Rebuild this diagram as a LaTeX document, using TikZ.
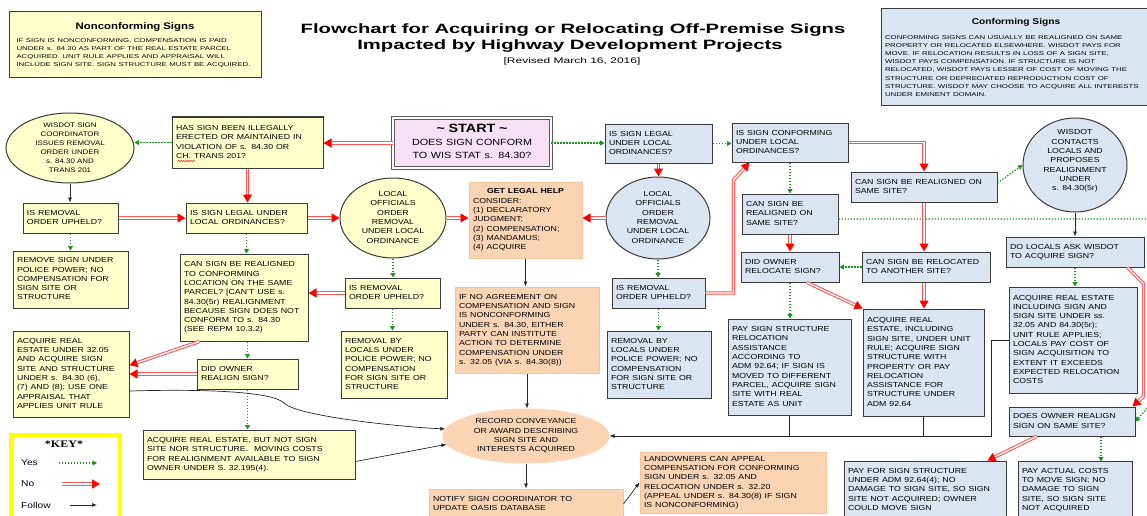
\documentclass[tikz,border=0pt]{standalone}
\usepackage{fontspec}
\usepackage{graphicx}
\setmainfont{Liberation Sans}
\newfontfamily\boxfam{Liberation Sans}
\newfontfamily\smallfam{Liberation Sans}[FakeStretch=1.4]
\newfontfamily\titlefam{Liberation Sans}[FakeStretch=1.5]
\newfontfamily\keyserif{Liberation Serif}
\usetikzlibrary{shapes.geometric,arrows.meta,decorations.pathmorphing,calc}
\definecolor{yfill}{HTML}{FFFFCC}
\definecolor{bfill}{HTML}{DBE5F1}
\definecolor{ofill}{HTML}{FBD4B4}
\definecolor{oline}{HTML}{F7C39A}
\definecolor{boxline}{HTML}{3A3A3A}
\definecolor{nored}{HTML}{FF5555}
\definecolor{yesgreen}{HTML}{1E961E}
\definecolor{startfill}{HTML}{F7E1F5}
\definecolor{keyyellow}{HTML}{FFFF00}
\newcommand\bfs{\boxfam\fontsize{7.3}{9.3}\selectfont}
\newcommand\smallfont{\smallfam\fontsize{5.6}{8.2}\selectfont}
\newcommand\jl[2]{\makebox[#1][s]{#2}}
\newcommand\stx[1]{\scalebox{1.2}[1]{\begin{tabular}{@{}l@{}}#1\end{tabular}}}
\newcommand\stc[1]{\scalebox{1.2}[1]{\begin{tabular}{@{}c@{}}#1\end{tabular}}}
\newcommand\wide[1]{\scalebox{1.2}[1]{#1}}
\newcommand\mybox[7]{%
  \pgfmathsetmacro\bxw{#5-#3}%
  \pgfmathsetmacro\bxh{#6-#4}%
  \pgfmathsetmacro\bxt{#5-#3-8}%
  \pgfmathsetmacro\bxcx{(#3+#5)/2}%
  \pgfmathsetmacro\bxcy{(#4+#6)/2}%
  \node[#2, minimum width=\bxw pt, minimum height=\bxh pt, text width=\bxt pt] (#1) at (\bxcx,\bxcy) {#7};}
\newcommand\myell[7]{%
  \node[#2, minimum width=#5*2pt, minimum height=#6*2pt] (#1) at (#3,#4) {\stc{#7}};}
\tikzset{
  base/.style={draw=boxline, line width=1pt, font=\bfs, inner xsep=4pt, inner ysep=1pt, align=left},
  ybox/.style={base, fill=yfill},
  bbox/.style={base, fill=bfill},
  obox/.style={base, fill=ofill, draw=oline},
  startbox/.style={draw=black!65, line width=0.9pt, double=white, double distance=1.3pt, fill=startfill, align=center, font=\boxfam\fontsize{9}{13}\selectfont, inner sep=2pt},
  yell/.style={ellipse, draw=boxline, line width=1pt, fill=yfill, font=\bfs, align=center, inner sep=-20pt},
  bell/.style={yell, fill=bfill},
  oell/.style={yell, fill=ofill, draw=ofill},
  no/.style={draw=white, line width=1.3pt, -{Triangle[length=8pt,width=9pt,color=red]}, preaction={draw=nored, line width=3.4pt, arrows=-, shorten >=6pt}},
  yes/.style={draw=yesgreen, line width=1.3pt, dash pattern=on 1.3pt off 1.7pt, -{Triangle[length=4.5pt,width=5pt]}},
  follow/.style={draw=black!85, line width=0.7pt, -{Latex[length=5pt,width=4pt]}},
  followline/.style={draw=black!85, line width=0.7pt},
  titletext/.style={font=\titlefam\bfseries\fontsize{13.5}{16}\selectfont, inner sep=0pt},
  keylabel/.style={anchor=west, font=\boxfam\fontsize{8.5}{9}\selectfont, inner sep=0pt}
}
\begin{document}
\begin{tikzpicture}[x=1pt,y=-1pt]
\useasboundingbox (0,0) rectangle (1147,516);
\fill[white] (0,0) rectangle (1147,516);
\clip (0,0) rectangle (1147,516);

% titles
\node[titletext] (title1) at (573,30) {Flowchart for Acquiring or Relocating Off-Premise Signs};
\node[titletext] (title2) at (570,46) {Impacted by Highway Development Projects};
\node[font=\titlefam\fontsize{8}{9}\selectfont, inner sep=0pt] (rev) at (572,61) {[Revised March 16, 2016]};

% info boxes
\mybox{noncon}{ybox, align=center, inner sep=0pt}{9}{12}{261}{78}{\wide{\bfseries\fontsize{9.5}{10}\selectfont Nonconforming Signs}\\[6pt]\parbox{237pt}{\smallfont
\jl{237pt}{IF SIGN IS NONCONFORMING, COMPENSATION IS PAID}\\
\jl{237pt}{UNDER s. 84.30 AS PART OF THE REAL ESTATE PARCEL}\\
\jl{237pt}{ACQUIRED. UNIT RULE APPLIES AND APPRAISAL WILL}\\
\jl{237pt}{INCLUDE SIGN SITE. SIGN STRUCTURE MUST BE ACQUIRED.}}}
\mybox{confsigns}{bbox, align=center, inner sep=0pt}{881}{9}{1151}{106}{\wide{\bfseries\fontsize{8.5}{10}\selectfont Conforming Signs}\\[8pt]\parbox{262pt}{\smallfam\fontsize{5.6}{8.1}\selectfont
\jl{262pt}{CONFORMING SIGNS CAN USUALLY BE REALIGNED ON SAME}\\
\jl{262pt}{PROPERTY OR RELOCATED ELSEWHERE. WISDOT PAYS FOR}\\
\jl{262pt}{MOVE. IF RELOCATION RESULTS IN LOSS OF A SIGN SITE,}\\
\jl{262pt}{WISDOT PAYS COMPENSATION. IF STRUCTURE IS NOT}\\
\jl{262pt}{RELOCATED, WISDOT PAYS LESSER OF COST OF MOVING THE}\\
\jl{262pt}{STRUCTURE OR DEPRECIATED REPRODUCTION COST OF}\\
\jl{262pt}{STRUCTURE. WISDOT MAY CHOOSE TO ACQUIRE ALL INTERESTS}\\
\makebox[262pt][l]{UNDER EMINENT DOMAIN.}}}

% start
\mybox{start}{startbox}{393}{118}{551}{168}{\stc{{\bfseries\fontsize{12}{13}\selectfont\textasciitilde{} START \textasciitilde}\\DOES SIGN CONFORM\\TO WIS STAT s. 84.30?}}

% left (yellow) part
\mybox{has}{ybox}{172}{117}{323}{168}{\stx{HAS SIGN BEEN ILLEGALLY\\ERECTED OR MAINTAINED IN\\VIOLATION OF s. 84.30 OR\\CH. TRANS 201?}}
\myell{wisdot}{yell, font=\boxfam\fontsize{6.6}{9}\selectfont}{70}{148}{64}{35}{WISDOT SIGN\\COORDINATOR\\ISSUES REMOVAL\\ORDER UNDER\\s. 84.30 AND\\TRANS 201}
\mybox{remA}{ybox}{23}{203}{118}{233}{\stx{IS REMOVAL\\ORDER UPHELD?}}
\mybox{legalA}{ybox}{186}{203}{307}{233}{\stx{IS SIGN LEGAL UNDER\\LOCAL ORDINANCES?}}
\mybox{policeA}{ybox}{13}{251}{128}{308}{\stx{REMOVE SIGN UNDER\\POLICE POWER; NO\\COMPENSATION FOR\\SIGN SITE OR\\STRUCTURE}}
\mybox{realignA}{ybox}{180}{254}{308}{341}{\stx{CAN SIGN BE REALIGNED\\TO CONFORMING\\LOCATION ON THE SAME\\PARCEL? [CAN’T USE s.\\84.30(5r) REALIGNMENT\\BECAUSE SIGN DOES NOT\\CONFORM TO s. 84.30\\(SEE REPM 10.3.2)}}
\mybox{acqA}{ybox}{13}{331}{129}{417}{\stx{ACQUIRE REAL\\ESTATE UNDER 32.05\\AND ACQUIRE SIGN\\SITE AND STRUCTURE\\UNDER s. 84.30 (6),\\(7) AND (8); USE ONE\\APPRAISAL THAT\\APPLIES UNIT RULE}}
\mybox{ownerA}{ybox}{197}{359}{298}{389}{\stx{DID OWNER\\REALIGN SIGN?}}
\mybox{acqB}{ybox}{143}{430}{355}{479}{\stx{ACQUIRE REAL ESTATE, BUT NOT SIGN\\SITE NOR STRUCTURE.\ \ MOVING COSTS\\FOR REALIGNMENT AVAILABLE TO SIGN\\OWNER UNDER S. 32.195(4).}}
\myell{localA}{yell}{393}{218}{53}{40}{LOCAL\\OFFICIALS\\ORDER\\REMOVAL\\UNDER LOCAL\\ORDINANCE}
\mybox{remB}{ybox}{345}{278}{440}{308}{\stx{IS REMOVAL\\ORDER UPHELD?}}
\mybox{policeB}{ybox}{341}{331}{447}{398}{\stx{REMOVAL BY\\LOCALS UNDER\\POLICE POWER; NO\\COMPENSATION\\FOR SIGN SITE OR\\STRUCTURE}}

% orange part
\mybox{help}{obox}{469}{182}{582}{258}{\stx{\makebox[87.5pt][c]{\bfseries GET LEGAL HELP}\\CONSIDER:\\(1) DECLARATORY\\JUDGMENT;\\(2) COMPENSATION;\\(3) MANDAMUS;\\(4) ACQUIRE}}
\mybox{noagree}{obox}{455}{287}{599}{373}{\stx{IF NO AGREEMENT ON\\COMPENSATION AND SIGN\\IS NONCONFORMING\\UNDER s. 84.30, EITHER\\PARTY CAN INSTITUTE\\ACTION TO DETERMINE\\COMPENSATION UNDER\\s. 32.05 (VIA s. 84.30(8))}}
\myell{record}{oell}{526}{436}{83}{27}{RECORD CONVEYANCE\\OR AWARD DESCRIBING\\SIGN SITE AND\\INTERESTS ACQUIRED}
\mybox{notify}{obox}{429}{489}{623}{519}{\stx{NOTIFY SIGN COORDINATOR TO\\UPDATE OASIS DATABASE}}
\mybox{landown}{obox}{640}{452}{826}{513}{\stx{LANDOWNERS CAN APPEAL\\COMPENSATION FOR CONFORMING\\SIGN UNDER s. 32.05 AND\\RELOCATION UNDER s. 32.20\\(APPEAL UNDER s. 84.30(8) IF SIGN\\IS NONCONFORMING)}}

% blue part
\mybox{legalB}{bbox}{605}{124}{712}{163}{\stx{IS SIGN LEGAL\\UNDER LOCAL\\ORDINANCES?}}
\mybox{conf}{bbox}{732}{123}{848}{162}{\stx{IS SIGN CONFORMING\\UNDER LOCAL\\ORDINANCES?}}
\myell{localB}{bell}{658}{218}{52}{41}{LOCAL\\OFFICIALS\\ORDER\\REMOVAL\\UNDER LOCAL\\ORDINANCE}
\mybox{remC}{bbox}{612}{278}{705}{308}{\stx{IS REMOVAL\\ORDER UPHELD?}}
\mybox{policeC}{bbox}{607}{331}{711}{398}{\stx{REMOVAL BY\\LOCALS UNDER\\POLICE POWER; NO\\COMPENSATION\\FOR SIGN SITE OR\\STRUCTURE}}
\mybox{realignL}{bbox}{742}{194}{838}{234}{\stx{CAN SIGN BE\\REALIGNED ON\\SAME SITE?}}
\mybox{ownerR}{bbox}{741}{252}{839}{282}{\stx{DID OWNER\\RELOCATE SIGN?}}
\mybox{paysign}{bbox}{728}{319}{851}{415}{\stx{PAY SIGN STRUCTURE\\RELOCATION\\ASSISTANCE\\ACCORDING TO\\ADM 92.64; IF SIGN IS\\MOVED TO DIFFERENT\\PARCEL, ACQUIRE SIGN\\SITE WITH REAL\\ESTATE AS UNIT}}
\mybox{realignR}{bbox}{851}{172}{997}{202}{\stx{CAN SIGN BE REALIGNED ON\\SAME SITE?}}
\mybox{relocate}{bbox}{862}{252}{990}{282}{\stx{CAN SIGN BE RELOCATED\\TO ANOTHER SITE?}}
\mybox{acqC}{bbox}{863}{309}{984}{416}{\stx{ACQUIRE REAL\\ESTATE, INCLUDING\\SIGN SITE, UNDER UNIT\\RULE; ACQUIRE SIGN\\STRUCTURE WITH\\PROPERTY OR PAY\\RELOCATION\\ASSISTANCE FOR\\STRUCTURE UNDER\\ADM 92.64}}
\myell{wisdotB}{bell}{1075}{165}{52}{47}{WISDOT\\CONTACTS\\LOCALS AND\\PROPOSES\\REALIGNMENT\\UNDER\\s. 84.30(5r)\\[8pt]}
\mybox{dolocals}{bbox}{1006}{237}{1144}{267}{\stx{DO LOCALS ASK WISDOT\\TO ACQUIRE SIGN?}}
\mybox{acqD}{bbox}{1009}{287}{1137}{393}{\stx{ACQUIRE REAL ESTATE\\INCLUDING SIGN AND\\SIGN SITE UNDER ss.\\32.05 AND 84.30(5r);\\UNIT RULE APPLIES;\\LOCALS PAY COST OF\\SIGN ACQUISITION TO\\EXTENT IT EXCEEDS\\EXPECTED RELOCATION\\COSTS}}
\mybox{doesowner}{bbox}{1009}{407}{1135}{436}{\stx{DOES OWNER REALIGN\\SIGN ON SAME SITE?}}
\mybox{payfor}{bbox}{844}{461}{1006}{519}{\stx{PAY FOR SIGN STRUCTURE\\UNDER ADM 92.64(4); NO\\DAMAGE TO SIGN SITE, SO SIGN\\SITE NOT ACQUIRED; OWNER\\COULD MOVE SIGN}}
\mybox{payactual}{bbox}{1018}{461}{1132}{519}{\stx{PAY ACTUAL COSTS\\TO MOVE SIGN; NO\\DAMAGE TO SIGN\\SITE, SO SIGN SITE\\NOT ACQUIRED}}

% spelling squiggle under CH.
\draw[red, line width=0.5pt, decorate, decoration={snake, amplitude=0.6pt, segment length=2.5pt}] (178,161) -- (195,161);

% ---- connectors: left ----
\draw[no] (start.west) -- (start.west -| has.east);
\draw[yes] (has.west) -- (has.west -| wisdot.east);
\draw[no] (has.south) -- (has.south |- legalA.north);
\draw[follow] (wisdot.south) -- (wisdot.south |- remA.north);
\draw[no] (remA.east) -- (remA.east -| legalA.west);
\draw[yes] (remA.south) -- (remA.south |- policeA.north);
\draw[yes] (legalA.south) -- (legalA.south |- realignA.north);
\draw[no] (legalA.east) -- (legalA.east -| localA.west);
\draw[no] (localA.east) -- (localA.east -| help.west);
\draw[yes] (localA.south) -- (localA.south |- remB.north);
\draw[no] (remB.west) -- (remB.west -| realignA.east);
\draw[yes] (remB.south) -- (remB.south |- policeB.north);
\draw[no] ([xshift=20pt]realignA.south west) -- ($(acqA.north east)!0.4!(acqA.south east)$);
\draw[yes] (ownerA.north |- realignA.south) -- (ownerA.north);
\draw[no] (ownerA.west) -- (ownerA.west -| acqA.east);
\draw[yes] (ownerA.south) -- (ownerA.south |- acqB.north);
\draw[follow] (acqA.east |- 0,391) .. controls (200,389) and (272,391) .. (284,403) .. controls (296,416) and (400,427) .. (record.175);
\draw[follow] ([yshift=-7pt]acqB.east) -- (record.186);

% ---- connectors: middle ----
\draw[follow] (help.south) -- (help.south |- noagree.north);
\draw[follow] (noagree.south) -- (noagree.south |- record.north);
\draw[follow] (record.south) -- (record.south |- notify.north);
\draw[follow] (notify.east) -- (landown.west);

% ---- connectors: right ----
\draw[yes] (start.east) -- (start.east -| legalB.west);
\draw[yes] (legalB.east) -- (legalB.east -| conf.west);
\draw[no] (legalB.south) -- (legalB.south |- localB.north);
\draw[no] (localB.west) -- (localB.west -| help.east);
\draw[yes] (localB.south) -- (localB.south |- remC.north);
\draw[yes] (remC.south) -- (remC.south |- policeC.north);
\draw[no] (remC.east) -- ++(28,0) -- ++(0,-113) -- ([xshift=18pt]conf.south west);
\draw[yes] (conf.south) -- (conf.south |- realignL.north);
\draw[no] (conf.east) -| (realignR.north);
\draw[no] (realignL.south) -- (realignL.south |- ownerR.north);
\draw[yes] ([yshift=-5pt]realignL.east) -- (1156,219) -- (1156,398) -- (doesowner.east);
\draw[yes] ([yshift=4pt]realignR.east) -- (wisdotB.west);
\draw[no] (realignR.south) -- (realignR.south |- relocate.north);
\draw[yes] (relocate.west) -- (relocate.west -| ownerR.east);
\draw[no] (realignR.south |- relocate.south) -- (realignR.south |- acqC.north);
\draw[no] ([xshift=17pt]ownerR.south) -- (acqC.north west);
\draw[yes] (ownerR.south) -- (ownerR.south |- paysign.north);
\draw[follow] (wisdotB.south) -- (wisdotB.south |- dolocals.north);
\draw[yes] (wisdotB.south |- dolocals.south) -- (wisdotB.south |- acqD.north);
\draw[no] ([xshift=-17pt]dolocals.south east) -- ++(16,16) -- ++(0,113) -- ([xshift=-3pt]doesowner.north east);
\draw[no] ([xshift=28pt]doesowner.south west) -- ([xshift=-19pt]payfor.north east);
\draw[yes] ([xshift=29pt]doesowner.south) -- ++(0,25);
\draw[follow] (acqD.west) -- ++(-17,0) -- ++(0,96) -- (record.east);
\draw[followline] (paysign.south) -- (paysign.south |- record.east);
\draw[followline] (acqC.south) -- (acqC.south |- record.east);

% ---- key ----
\node[draw=keyyellow, line width=3pt, fill=white, minimum width=110pt, minimum height=100pt, anchor=north west] (key) at (9,433) {};
\draw[keyyellow, line width=0.8pt] ([shift={(3.5pt,-3.5pt)}]key.north west) rectangle ([shift={(-3.5pt,3.5pt)}]key.south east);
\node[font=\keyserif\bfseries\fontsize{10}{11}\selectfont, inner sep=0pt] (keytitle) at (64,444) {\wide{*KEY*}};
\node[keylabel] (kyes) at (21,463) {\wide{Yes}};
\node[keylabel] (kno) at (21,484) {\wide{No}};
\node[keylabel] (kfollow) at (21,505) {\wide{Follow}};
\coordinate (kya) at (59,463); \coordinate (kyb) at (97,463);
\coordinate (kna) at (62,484); \coordinate (knb) at (100,484);
\coordinate (kfa) at (70,505); \coordinate (kfb) at (97,505);
\draw[yes] (kya) -- (kyb);
\draw[no] (kna) -- (knb);
\draw[follow] (kfa) -- (kfb);
\end{tikzpicture}
\end{document}
